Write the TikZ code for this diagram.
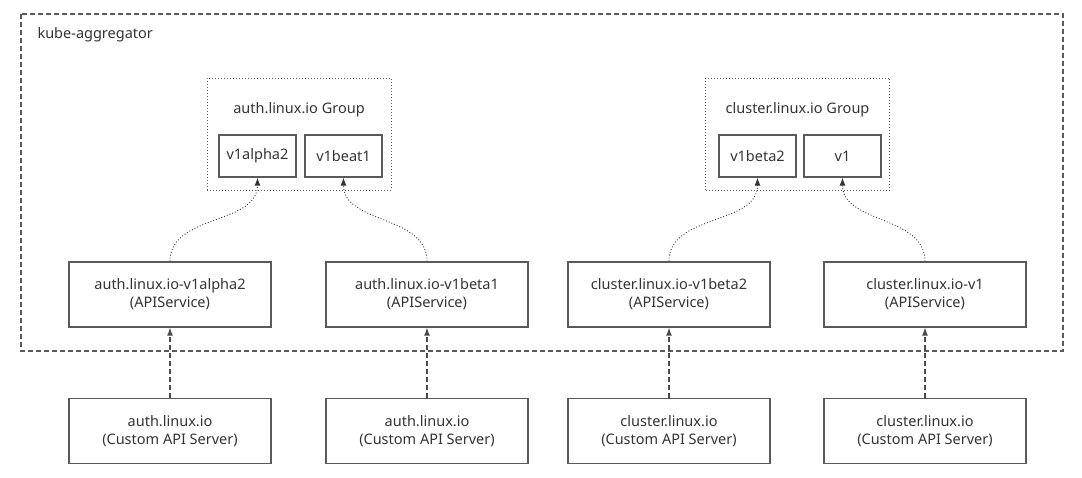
\documentclass[tikz,border=0pt]{standalone}
\usepackage{fontspec}
\setmainfont{Noto Sans}
\usetikzlibrary{arrows.meta}
\definecolor{linegray}{HTML}{5A5A5A}
\definecolor{textgray}{HTML}{333333}
\tikzset{
  txt/.style={text=textgray, font=\fontsize{14.5}{18}\selectfont},
  box/.style={txt, draw=linegray, line width=1.3pt, minimum width=202pt,
    minimum height=65pt, align=center, inner sep=0pt},
  verbox/.style={box, minimum width=77pt, minimum height=42pt},
  grpbox/.style={draw=linegray, dotted, line width=1pt, minimum width=184pt,
    minimum height=112pt, inner sep=0pt},
  regarrow/.style={draw=black!80, line width=0.9pt, dotted,
    -{Latex[length=8pt,width=6pt]}},
  srvarrow/.style={draw=black!70, line width=1.1pt, dash pattern=on 5pt off 3pt,
    -{Latex[length=8pt,width=6pt]}}
}
\begin{document}
\begin{tikzpicture}[x=1pt,y=-1pt]
    \useasboundingbox (0,0) rectangle (1082,477);
    % kube-aggregator
    \draw[linegray, line width=1.3pt, dash pattern=on 5pt off 3pt]
        (21,14) rectangle (1063,351);
    \node[txt, anchor=west] (kagg) at (34,35) {kube-aggregator};
    % Groups
    \node[grpbox] (authgrp) at (299,134) {};
    \node[txt] (authtitle) at (299,110) {auth.linux.io Group};
    \node[verbox] (av1alpha2) at (257.5,156) {v1alpha2};
    \node[verbox] (av1beat1) at (343.5,156) {v1beat1};
    \node[grpbox] (clgrp) at (797.5,134) {};
    \node[txt] (cltitle) at (797.5,110) {cluster.linux.io Group};
    \node[verbox] (cv1beta2) at (757.5,156) {v1beta2};
    \node[verbox] (cv1) at (842.5,156) {v1};
    % APIService
    \node[box] (asalpha) at (170,294.5) {auth.linux.io-v1alpha2\\(APIService)};
    \node[box] (asbeta) at (427,294.5) {auth.linux.io-v1beta1\\(APIService)};
    \node[box] (csbeta) at (669,294.5) {cluster.linux.io-v1beta2\\(APIService)};
    \node[box] (csv1) at (925,294.5) {cluster.linux.io-v1\\(APIService)};
    % Custom API Server
    \node[box] (srva1) at (170,431) {auth.linux.io\\(Custom API Server)};
    \node[box] (srva2) at (427,431) {auth.linux.io\\(Custom API Server)};
    \node[box] (srvc1) at (669,431) {cluster.linux.io\\(Custom API Server)};
    \node[box] (srvc2) at (925,431) {cluster.linux.io\\(Custom API Server)};
    % connectors
    \draw[regarrow] (asalpha.north) to[out=90,in=-90] (av1alpha2.south);
    \draw[regarrow] (asbeta.north) to[out=90,in=-90] (av1beat1.south);
    \draw[regarrow] (csbeta.north) to[out=90,in=-90] (cv1beta2.south);
    \draw[regarrow] (csv1.north) to[out=90,in=-90] (cv1.south);
    \foreach \s/\t in {srva1/asalpha, srva2/asbeta, srvc1/csbeta, srvc2/csv1}
        \draw[srvarrow] (\s.north) -- (\t.south);
\end{tikzpicture}
\end{document}
